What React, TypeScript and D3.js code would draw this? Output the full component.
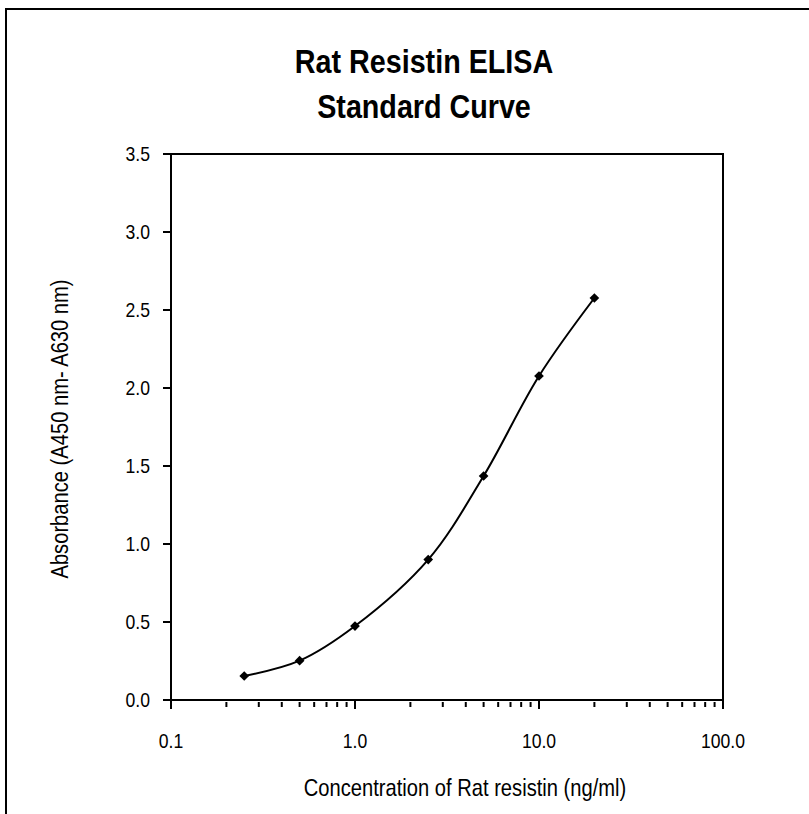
import { useEffect, useRef } from 'react';
import * as d3 from 'd3';

const concentrations = [0.25, 0.5, 1, 2.5, 5, 10, 20];
const absorbance = [0.154, 0.252, 0.474, 0.9, 1.436, 2.077, 2.577];
const yTicks = [0, 0.5, 1.0, 1.5, 2.0, 2.5, 3.0, 3.5];
const xMajorTicks = [0.1, 1, 10, 100];
const titleLines = ['Rat Resistin ELISA', 'Standard Curve'];

const W = 809;
const H = 814;
const FONT = '"Liberation Sans", Arial, sans-serif';

export default function App() {
  const svgRef = useRef<SVGSVGElement>(null);

  useEffect(() => {
    if (!svgRef.current) return;
    const svg = d3.select(svgRef.current);
    svg.selectAll('*').remove();

    const left = 171;
    const right = 723;
    const top = 154;
    const bottom = 700;

    const x = d3.scaleLog().domain([0.1, 100]).range([left, right]);
    const y = d3.scaleLinear().domain([0, 3.5]).range([bottom, top]);

    // narrow text helper (the original uses a condensed Arial)
    const label = (
      px: number,
      py: number,
      text: string,
      size: number,
      sx: number,
      anchor: string,
      weight = 'normal',
      rotate = 0,
    ) => {
      svg.append('g')
        .attr('transform', `translate(${px},${py}) rotate(${rotate}) scale(${sx},1)`)
        .append('text')
        .attr('text-anchor', anchor)
        .style('font-family', FONT)
        .style('font-size', `${size}px`)
        .style('font-weight', weight)
        .text(text);
    };

    // outer frame (cropped at right/bottom)
    svg.append('rect')
      .attr('x', 6).attr('y', 9)
      .attr('width', W + 20).attr('height', H + 20)
      .attr('fill', 'white')
      .attr('stroke', '#000')
      .attr('stroke-width', 2);

    // title
    titleLines.forEach((t, i) => label(424, 73 + i * 45, t, 33, 0.87, 'middle', 'bold'));

    // plot box
    svg.append('rect')
      .attr('x', left).attr('y', top)
      .attr('width', right - left).attr('height', bottom - top)
      .attr('fill', 'none')
      .attr('stroke', '#000')
      .attr('stroke-width', 2);

    // y ticks
    svg.append('g')
      .selectAll('line')
      .data(yTicks)
      .join('line')
      .attr('x1', left - 8).attr('x2', left)
      .attr('y1', (d) => y(d)).attr('y2', (d) => y(d))
      .attr('stroke', '#000').attr('stroke-width', 2);
    yTicks.forEach((d) => label(150, y(d) + 7, d3.format('.1f')(d), 20, 0.88, 'end'));

    // x ticks
    const minor: number[] = [];
    [0.1, 1, 10].forEach((dec) => {
      for (let k = 2; k <= 9; k++) minor.push(dec * k);
    });
    const xg = svg.append('g');
    xg.selectAll('line.minor')
      .data(minor)
      .join('line')
      .attr('class', 'minor')
      .attr('x1', (d) => x(d)).attr('x2', (d) => x(d))
      .attr('y1', bottom + 2).attr('y2', bottom + 7)
      .attr('stroke', '#000').attr('stroke-width', 2);
    xg.selectAll('line.major')
      .data(xMajorTicks)
      .join('line')
      .attr('class', 'major')
      .attr('x1', (d) => x(d)).attr('x2', (d) => x(d))
      .attr('y1', bottom).attr('y2', bottom + 9)
      .attr('stroke', '#000').attr('stroke-width', 2);
    xMajorTicks.forEach((d) => label(x(d), 748, d3.format('.1f')(d), 20, 0.88, 'middle'));

    // axis titles
    label(465, 796, 'Concentration of Rat resistin (ng/ml)', 24, 0.84, 'middle');
    label(68, 429, 'Absorbance (A450 nm- A630 nm)', 24, 0.84, 'middle', 'normal', -90);

    // curve
    const pts = concentrations.map((c, i) => [x(c), y(absorbance[i])] as [number, number]);
    const line = d3.line().curve(d3.curveCatmullRom.alpha(0.5));
    svg.append('path')
      .attr('d', line(pts))
      .attr('fill', 'none')
      .attr('stroke', '#000')
      .attr('stroke-width', 2);

    const diamond = d3.symbol().type(d3.symbolDiamond2).size(60);
    svg.append('g')
      .selectAll('path')
      .data(pts)
      .join('path')
      .attr('transform', (d) => `translate(${d[0]},${d[1]})`)
      .attr('d', diamond())
      .attr('fill', '#000');
  }, []);

  return <svg ref={svgRef} width={W} height={H} style={{ display: 'block', position: 'absolute', left: 0, top: 0 }} />;
}
